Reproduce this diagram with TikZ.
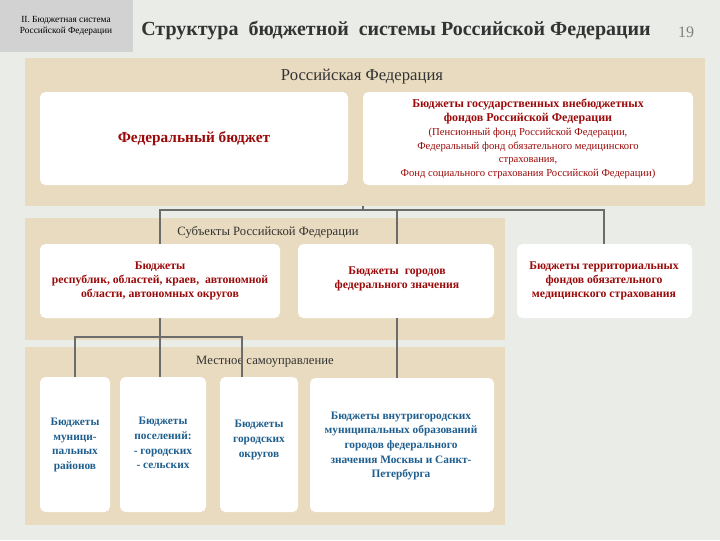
\documentclass[tikz,border=0pt]{standalone}
\usepackage{fontspec}
\setmainfont{Liberation Serif}
\begin{document}
\begin{tikzpicture}[x=0.75pt,y=-0.75pt,
  panel/.style={fill=tanc,draw=none},
  wbox/.style={fill=white,draw=none,rounded corners=4pt},
  conn/.style={draw=gray!85!black,line width=1.3pt},
  red/.style={text=redc,font=\bfseries\fontsize{8.8}{10.5}\selectfont,align=center},
  blue/.style={text=bluec,font=\bfseries\fontsize{8.5}{11}\selectfont,align=center}]
\definecolor{tanc}{HTML}{E8DBBF}
\definecolor{bgc}{HTML}{E9ECE7}
\definecolor{redc}{HTML}{9B0A0A}
\definecolor{bluec}{HTML}{1F5F8F}
\useasboundingbox (0,0) rectangle (720,540);
\fill[bgc] (0,0) rectangle (720,540);
\fill[gray!35] (0,0) rectangle (133,52);
\node[font=\fontsize{7}{8.5}\selectfont,align=center] (tag) at (66,26) {II. Бюджетная система\\Российской Федерации};
\node[font=\bfseries\fontsize{15}{18}\selectfont,text=black!80] (title) at (396,30) {Структура\ \ бюджетной\ \ системы Российской Федерации};
\node[text=gray,font=\fontsize{12}{14}\selectfont] (pg) at (686,32) {19};
% panels
\fill[panel] (25,58) rectangle (705,206);
\fill[panel] (25,218) rectangle (505,340);
\fill[panel] (25,347) rectangle (505,525);
\node[font=\fontsize{12.5}{14}\selectfont,text=black!80] (rf) at (362,77) {Российская Федерация};
% boxes
\draw[wbox] (40,92) rectangle (348,185);
\node[text=redc,font=\bfseries\fontsize{11.5}{13}\selectfont] (fed) at (194,139) {Федеральный бюджет};
\draw[wbox] (363,92) rectangle (693,185);
\node[text=redc,align=center,font=\fontsize{8}{10.3}\selectfont] (funds) at (528,139)
 {{\bfseries\fontsize{9}{10.5}\selectfont Бюджеты государственных внебюджетных}\\
  {\bfseries\fontsize{9}{10.5}\selectfont фондов Российской Федерации}\\
  (Пенсионный фонд Российской Федерации,\\Федеральный фонд обязательного медицинского\\страхования,\\Фонд социального страхования Российской Федерации)};
\node[font=\fontsize{9.5}{11}\selectfont,text=black!80] (subj) at (268,232) {Субъекты Российской Федерации};
\draw[wbox] (40,244) rectangle (280,318);
\node[red] (rep) at (160,281) {Бюджеты\\республик, областей, краев,\ \ автономной\\области, автономных округов};
\draw[wbox] (298,244) rectangle (494,318);
\node[red] (fc) at (397,279) {Бюджеты\ \ городов\\федерального значения};
\draw[wbox] (517,244) rectangle (692,318);
\node[red] (tf) at (604,281) {Бюджеты территориальных\\фондов обязательного\\медицинского страхования};
\node[font=\fontsize{9.5}{11}\selectfont,text=black!80] (loc) at (265,362) {Местное самоуправление};
\draw[wbox] (40,377) rectangle (110,512);
\node[blue] (mr) at (75,445) {Бюджеты\\муници-\\пальных\\районов};
\draw[wbox] (120,377) rectangle (206,512);
\node[blue] (pos) at (163,443) {Бюджеты\\поселений:\\- городских\\- сельских};
\draw[wbox] (220,377) rectangle (298,512);
\node[blue] (go) at (259,440) {Бюджеты\\городских\\округов};
\draw[wbox] (310,378) rectangle (494,512);
\node[blue] (vg) at (401,446) {Бюджеты внутригородских\\муниципальных образований\\городов федерального\\значения Москвы и Санкт-\\Петербурга};
% connectors
\coordinate (top) at (363,206);
\coordinate (h) at (363,210);
\coordinate (rt) at (160,244); \coordinate (ft) at (397,244); \coordinate (tt) at (604,244);
\draw[conn] (top) -- (h);
\draw[conn] (rt) -- (160,210) -- (604,210) -- (tt);
\draw[conn] (397,210) -- (ft);
\coordinate (rb) at (160,318);
\coordinate (m1) at (75,377); \coordinate (m2) at (160,377); \coordinate (m3) at (242,377);
\draw[conn] (rb) -- (m2);
\draw[conn] (m1) -- (75,337) -- (242,337) -- (m3);
\coordinate (fb) at (397,318); \coordinate (vt) at (397,378);
\draw[conn] (fb) -- (vt);
\end{tikzpicture}
\end{document}
